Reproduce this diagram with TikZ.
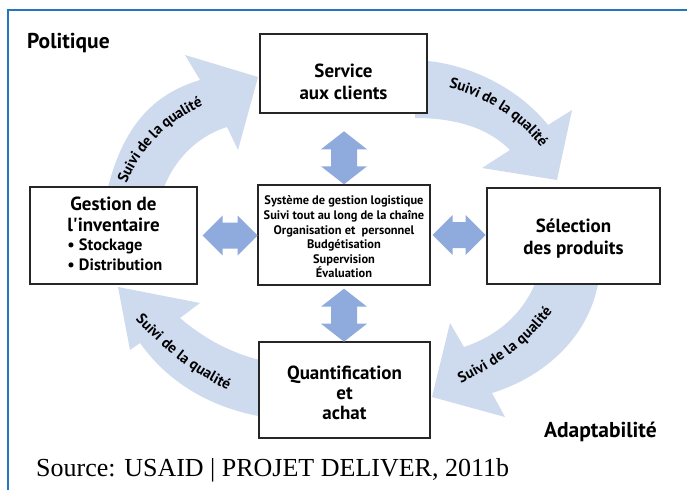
\documentclass[tikz,border=0pt]{standalone}
\usepackage{fontspec}
\setmainfont{PT Sans}
\newfontfamily\srcfont{Liberation Serif}
\usetikzlibrary{calc,decorations.text}

\definecolor{cadre}{RGB}{38,118,190}
\definecolor{anneau}{RGB}{206,218,238}
\definecolor{fleche}{RGB}{143,170,220}
\newcommand\arcfont{\bfseries\fontsize{15}{17}\selectfont}

\begin{document}
\begin{tikzpicture}[x=1pt,y=-1pt,
    box/.style={draw=black!85,line width=1.4pt,fill=white,inner sep=0pt},
    txt/.style={align=center,inner sep=0pt,font=\bfseries\fontsize{19}{22}\selectfont},
    ring/.style={fill=anneau},
    qual/.style={decorate,decoration={text along path,text={|\arcfont|Suivi de la qualité},
      text align=center,raise=-5pt}},
    dbl/.style={fill=fleche},
    coin/.style={inner sep=0pt,font=\bfseries\fontsize{21.5}{24}\selectfont}]
\useasboundingbox (0,0) rectangle (687,490);
\draw[cadre,line width=2pt] (8,490) -- (8,10) -- (687,10);

\fill[ring] (105,200) .. controls (120,130) and (150,95) .. (200,80) -- (185,55) -- (258,77)
  -- (238,150) -- (227,127) .. controls (200,135) and (170,160) .. (160,200) -- cycle;
\fill[ring] (415,60) .. controls (470,62) and (520,90) .. (548,125) -- (572,110) -- (557,180)
  -- (482,168) -- (510,150) .. controls (490,130) and (460,118) .. (415,118) -- cycle;
\fill[ring] (600,270) .. controls (595,330) and (550,375) .. (492,393) -- (505,417) -- (432,397)
  -- (450,323) -- (464,347) .. controls (500,335) and (528,310) .. (540,270) -- cycle;
\fill[ring] (270,418) .. controls (215,410) and (170,385) .. (140,343) -- (130,350) -- (118,287)
  -- (200,303) -- (180,318) .. controls (200,335) and (230,355) .. (270,362) -- cycle;

\path[qual] (110,216) .. controls (127,150) and (165,106) .. (236,90);
\path[qual] (416,78) .. controls (470,80) and (532,110) .. (563,174);
\path[qual] (421,394) .. controls (482,373) and (542,337) .. (568,273);
\path[qual] (114,286) .. controls (160,345) and (205,380) .. (266,400);

\node[box,minimum width=167pt,minimum height=79pt] (service) at (343.5,73.5) {};
\node[txt] (service-t) at ($(service)+(0,8)$) {Service\\aux clients};
\node[box,minimum width=173pt,minimum height=96pt] (selection) at (573.5,236) {};
\node[txt] (selection-t) at ($(selection)+(0,3)$) {Sélection\\des produits};
\node[box,minimum width=171pt,minimum height=96pt] (quantif) at (344.5,390) {};
\node[txt,font=\bfseries\fontsize{19}{20}\selectfont] (quantif-t) at ($(quantif)+(0,3)$)
  {Quantification\\et\\achat};
\node[box,minimum width=167pt,minimum height=97pt] (gestion) at (113.5,235.5) {};
\node[txt,font=\bfseries\fontsize{19}{20.5}\selectfont] (gestion-t) at ($(gestion)+(0,1)$)
  {\begin{tabular}{@{}l@{}}
    \multicolumn{1}{@{}c@{}}{Gestion de}\\
    \multicolumn{1}{@{}c@{}}{l\textquotesingle inventaire}\\[-1pt]
    {\fontsize{16.4}{19}\selectfont\,• Stockage}\\[-1pt]
    {\fontsize{16.4}{19}\selectfont\,• Distribution}
  \end{tabular}};
\node[box,minimum width=172pt,minimum height=100pt] (systeme) at (344,235) {};
\node[txt,font=\bfseries\fontsize{12.4}{14.6}\selectfont] (systeme-t) at ($(systeme)+(0,2)$)
  {Système de gestion logistique\\Suivi tout au long de la chaîne\\
  Organisation et\ \ personnel\\Budgétisation\\Supervision\\Évaluation};

\fill[dbl] (systeme.north) -- ++(23,-18) -- ++(-10,0) -- ++(0,-17) -- ++(10,0) -- ++(-23,-18)
  -- ++(-23,18) -- ++(10,0) -- ++(0,17) -- ++(-10,0) -- cycle;
\fill[dbl] ($(systeme.south)+(0,3)$) -- ++(23,18) -- ++(-10,0) -- ++(0,17) -- ++(10,0) -- ++(-23,18)
  -- ++(-23,-18) -- ++(10,0) -- ++(0,-17) -- ++(-10,0) -- cycle;
\fill[dbl] ($(gestion.east)+(5,0)$) -- ++(20,-20) -- ++(0,7) -- ++(15,0) -- ++(0,-7) -- ++(20,20)
  -- ++(-20,20) -- ++(0,-7) -- ++(-15,0) -- ++(0,7) -- cycle;
\fill[dbl] ($(systeme.east)+(2,0)$) -- ++(20,-20) -- ++(0,7) -- ++(13,0) -- ++(0,-7) -- ++(20,20)
  -- ++(-20,20) -- ++(0,-7) -- ++(-13,0) -- ++(0,7) -- cycle;

\node[coin,anchor=west] (politique) at (27,43) {Politique};
\node[coin,anchor=east] (adapt) at (657,432) {Adaptabilité};
\node[inner sep=0pt,anchor=west,font=\srcfont\fontsize{26}{28}\selectfont] (source) at (36,470)
  {Source: USAID | PROJET DELIVER, 2011b};
\end{tikzpicture}
\end{document}
